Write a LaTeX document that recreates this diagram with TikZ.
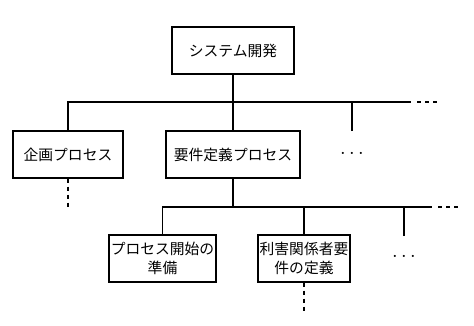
\documentclass[tikz,border=0pt]{standalone}
\usepackage{fontspec}
\newfontfamily\jpfont{Noto Sans CJK JP}
\usepackage{tikz}
\tikzset{
  box/.style={rectangle, draw, line width=0.8pt, minimum height=1.175cm, align=center, font=\jpfont\fontsize{10.5}{14}\selectfont, inner sep=1pt},
  link/.style={line width=0.8pt},
  cont/.style={line width=1pt, dash pattern=on 0.11cm off 0.09cm},
  more/.style={font=\Large}
}
\begin{document}
\begin{tikzpicture}[x=0.025cm, y=-0.025cm]
\useasboundingbox (0,0) rectangle (474,325);
\node[box, minimum width=3.05cm] (sys) at (233,50.5) {システム開発};
\node[box, minimum width=2.75cm] (kikaku) at (68,154.5) {企画プロセス};
\node[box, minimum width=3.35cm] (youken) at (233,154.5) {要件定義プロセス};
\node[more] (dots1) at (352,154) {$\cdots$};
\node[box, minimum width=2.675cm] (junbi) at (162.5,258.5) {プロセス開始の\\準備};
\node[box, minimum width=2.3cm] (rigai) at (304,258.5) {利害関係者要\\件の定義};
\node[more] (dots2) at (404,257) {$\cdots$};

% first level
\coordinate (b1r) at (411,102);
\coordinate (b1d) at (417,102);
\coordinate (b1e) at (439,102);
\coordinate (t1) at (352,131);
\draw[link] (sys) -- (sys |- b1r);
\draw[link] (kikaku) |- (b1r);
\draw[link] (youken.north) -- (youken.north |- b1r);
\draw[link] (t1) -- (t1 |- b1r);
\draw[cont] (b1d) -- (b1e);
\coordinate (k1) at (68,208);
\draw[cont] (kikaku) -- (k1);

% second level
\coordinate (b2r) at (432,207);
\coordinate (b2d) at (438,207);
\coordinate (b2e) at (460,207);
\coordinate (t2) at (404,236);
\draw[link] (youken) -- (youken |- b2r);
\draw[link] (junbi) |- (b2r);
\draw[link] (rigai.north) -- (rigai.north |- b2r);
\draw[link] (t2) -- (t2 |- b2r);
\draw[cont] (b2d) -- (b2e);
\coordinate (r1) at (304,312);
\draw[cont] (rigai) -- (r1);
\end{tikzpicture}
\end{document}
